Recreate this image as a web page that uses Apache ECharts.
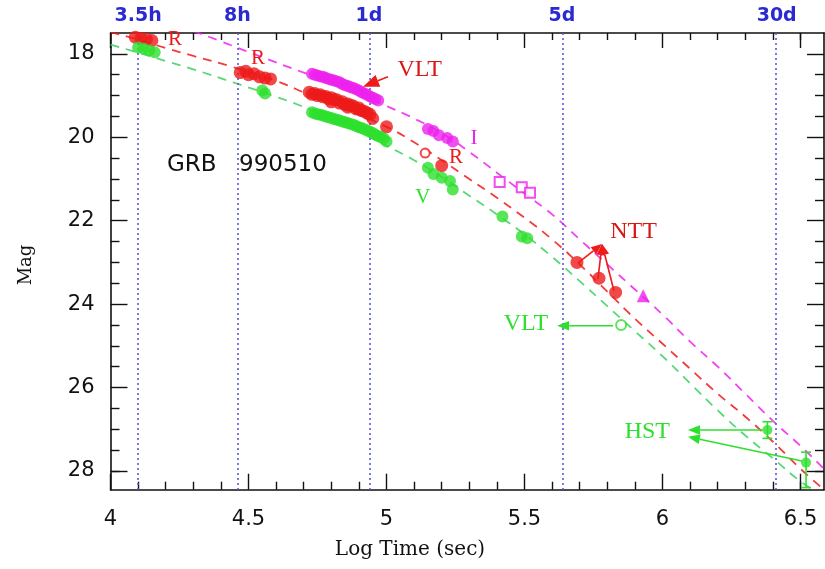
<!DOCTYPE html>
<html>
<head>
<meta charset="utf-8">
<script src="https://cdn.jsdelivr.net/npm/echarts@6/dist/echarts.min.js"></script>
<style>
  html, body { margin: 0; padding: 0; background: #fff; }
  #chart { width: 825px; height: 569px; }
</style>
</head>
<body>
<div id="chart"></div>
<script>
// tick labels
const magMajor = [18, 20, 22, 24, 26, 28]
const magMinor = [18.5, 19, 19.5, 20.5, 21, 21.5, 22.5, 23, 23.5, 24.5, 25, 25.5, 26.5, 27, 27.5, 28]
const logMajor = [4, 4.5, 5, 5.5, 6, 6.5]
const logMinor = [4.1, 4.2, 4.3, 4.4, 4.6, 4.7, 4.8, 4.9, 5.1, 5.2, 5.3, 5.4, 5.6, 5.7, 5.8, 5.9, 6.1, 6.2, 6.3, 6.4, 6.5]
const timeNames = ['3.5h', '8h', '1d', '5d', '30d']
const timeSeconds = [12600, 28800, 86400, 432000, 2592000]

// model curves (log t, mag)
const iModel = [[4.3,17.45],[4.4,17.7],[4.55,18.08],[4.7,18.45],[4.85,18.8],[5.0,19.25],[5.1,19.55],[5.2,19.9],[5.3,20.35],[5.4,20.85],[5.5,21.35],[5.6,21.85],[5.7,22.45],[5.8,23.05],[5.9,23.65],[6.0,24.25],[6.1,24.9],[6.2,25.5],[6.3,26.15],[6.4,26.8],[6.5,27.4],[6.585,27.95]]
const rModel = [[4.0,17.48],[4.1,17.66],[4.2,17.86],[4.3,18.05],[4.44,18.31],[4.6,18.65],[4.72,18.98],[4.85,19.33],[5.0,19.75],[5.1,20.12],[5.2,20.55],[5.3,21.0],[5.4,21.45],[5.5,21.93],[5.6,22.45],[5.7,23.05],[5.8,23.7],[5.9,24.35],[6.0,24.95],[6.1,25.55],[6.2,26.15],[6.3,26.7],[6.4,27.3],[6.5,27.95],[6.585,28.45]]
const vModel = [[4.0,17.78],[4.1,17.97],[4.2,18.17],[4.3,18.37],[4.47,18.74],[4.6,19.03],[4.68,19.22],[4.8,19.55],[4.9,19.85],[5.0,20.2],[5.1,20.55],[5.2,20.95],[5.3,21.4],[5.4,21.85],[5.5,22.33],[5.6,22.87],[5.7,23.45],[5.8,24.05],[5.9,24.65],[6.0,25.25],[6.1,25.9],[6.2,26.55],[6.3,27.15],[6.4,27.7],[6.5,28.25],[6.56,28.5]]

// observations
const iPoints = [[4.73,18.48],[4.74,18.5],[4.75,18.52],[4.76,18.54],[4.77,18.55],[4.78,18.58],[4.79,18.6],[4.8,18.62],[4.81,18.64],[4.82,18.66],[4.83,18.68],[4.84,18.72],[4.85,18.75],[4.86,18.77],[4.87,18.8],[4.88,18.82],[4.89,18.85],[4.9,18.88],[4.91,18.92],[4.92,18.95],[4.93,18.98],[4.94,19.02],[4.95,19.05],[4.96,19.08],[4.97,19.12],[5.15,19.8],[5.17,19.85],[5.19,19.95],[5.22,20.02],[5.24,20.1]]
const iOpen = [[5.41,21.07],[5.49,21.2],[5.52,21.33]]
const iLimit = [[5.93,23.8]]
const rPoints = [[4.09,17.6],[4.11,17.63],[4.13,17.65],[4.15,17.68],[4.47,18.45],[4.49,18.42],[4.5,18.5],[4.52,18.48],[4.54,18.55],[4.56,18.58],[4.58,18.6],[4.72,18.92],[4.73,18.97],[4.74,18.95],[4.75,19.0],[4.76,18.98],[4.77,19.03],[4.78,19.02],[4.79,19.08],[4.8,19.05],[4.8,19.15],[4.81,19.1],[4.82,19.1],[4.83,19.18],[4.84,19.15],[4.85,19.22],[4.86,19.2],[4.86,19.28],[4.87,19.24],[4.88,19.25],[4.89,19.32],[4.9,19.3],[4.91,19.36],[4.92,19.38],[4.93,19.42],[4.94,19.45],[4.95,19.55],[5.0,19.75],[5.2,20.68],[5.69,23.0],[5.77,23.38],[5.83,23.72]]
const rOpen = [[5.14,20.38]]
const vPoints = [[4.1,17.85],[4.12,17.88],[4.14,17.92],[4.16,17.96],[4.55,18.88],[4.56,18.95],[4.73,19.4],[4.74,19.43],[4.75,19.45],[4.76,19.46],[4.77,19.48],[4.78,19.5],[4.79,19.52],[4.8,19.54],[4.81,19.56],[4.82,19.58],[4.83,19.6],[4.84,19.62],[4.85,19.64],[4.86,19.66],[4.87,19.68],[4.88,19.7],[4.89,19.73],[4.9,19.76],[4.91,19.78],[4.92,19.81],[4.93,19.84],[4.94,19.87],[4.95,19.9],[4.96,19.94],[4.97,19.97],[4.98,20.0],[4.99,20.03],[5.0,20.1],[5.15,20.73],[5.17,20.88],[5.2,20.97],[5.23,21.05],[5.24,21.25],[5.42,21.9],[5.49,22.38],[5.51,22.42]]
const vOpen = [[5.85,24.5]]
const hstTime = [6.38, 6.52]
const hstMag = [27.02, 27.8]
const hstLow = [26.82, 27.55]
const hstHigh = [27.22, 28.4]

const RED = '#ee1a1a', GREEN = '#2ee02e', MAG = '#ee22ee'
const XMIN = 4, XMAX = 6.585, YMIN = 17.5, YMAX = 28.45

const timeLog = timeSeconds.map(s => Math.log10(s))

function xAx(pos, ticks, len, labels) {
  return {
    type: 'value', position: pos, min: XMIN, max: XMAX,
    axisLine: { show: !!labels, lineStyle: { color: '#111', width: 1.6 } },
    axisTick: { show: true, inside: true, length: len, customValues: ticks, lineStyle: { color: '#111', width: 1.4 } },
    axisLabel: labels || { show: false },
    splitLine: { show: false }
  }
}
function yAx(pos, ticks, len, labels) {
  return {
    type: 'value', position: pos, inverse: true, min: YMIN, max: YMAX,
    axisLine: { show: !!labels, lineStyle: { color: '#111', width: 1.6 } },
    axisTick: { show: true, inside: true, length: len, customValues: ticks, lineStyle: { color: '#111', width: 1.4 } },
    axisLabel: labels || { show: false },
    splitLine: { show: false }
  }
}

const chart = echarts.init(document.getElementById('chart'))

function scatter(data, color, size, symbol) {
  return {
    type: 'scatter', data: data, symbol: symbol || 'circle', symbolSize: size,
    itemStyle: symbol && symbol.indexOf('empty') === 0 ? { color: color, borderColor: color, borderWidth: 2 } : { color: color },
    z: 5
  }
}
function curve(data, color) {
  return {
    type: 'line', data: data, smooth: true, showSymbol: false, symbol: 'none',
    lineStyle: { color: color, width: 1.8, type: [9, 7], opacity: 0.85 }, z: 3
  }
}

chart.setOption({
  animation: false,
  grid: { left: 110.5, right: 1, top: 33, height: 456.7 },
  xAxis: [
    xAx('bottom', logMajor, 16, { show: true, customValues: logMajor, margin: 19, fontSize: 21, color: '#111', fontFamily: 'DejaVu Sans' }),
    xAx('bottom', logMinor, 8),
    xAx('top', logMajor, 15, { show: true, customValues: timeLog, margin: 7, fontSize: 19, fontWeight: 'bold', color: '#2a2ad0', fontFamily: 'DejaVu Sans',
      formatter: v => { const i = timeLog.findIndex(t => Math.abs(t - v) < 1e-6); return i >= 0 ? timeNames[i] : '' } }),
    xAx('top', logMinor, 7)
  ],
  yAxis: [
    yAx('left', magMajor, 17, { show: true, customValues: magMajor, margin: 16, fontSize: 21, color: '#111', fontFamily: 'DejaVu Sans' }),
    yAx('left', magMinor, 9),
    yAx('right', magMajor, 17, { show: false }),
    yAx('right', magMinor, 9)
  ],
  series: [
    curve(iModel, MAG), curve(rModel, RED), curve(vModel, '#3cd060'),
    {
      type: 'line', data: [], markLine: {
        silent: true, symbol: ['none', 'none'], label: { show: false },
        lineStyle: { type: [2, 3], color: '#5a5ad8', width: 1.6 },
        data: timeLog.map(v => ({ xAxis: v }))
      }
    },
    scatter(iPoints, MAG, 12), scatter(iOpen, MAG, 10, 'emptyRect'), scatter(iLimit, MAG, 13, 'triangle'),
    scatter(rPoints, RED, 13), scatter(rOpen, RED, 9, 'emptyCircle'),
    scatter(vPoints, GREEN, 12), scatter(vOpen, GREEN, 10, 'emptyCircle'),
    scatter(hstTime.map((t, i) => [t, hstMag[i]]), GREEN, 10),
    {
      type: 'custom', z: 4,
      data: hstTime.map((t, i) => [t, hstMag[i], hstLow[i], hstHigh[i]]),
      renderItem: (params, api) => {
        const a = api.coord([api.value(0), api.value(2)])
        const b = api.coord([api.value(0), api.value(3)])
        const st = { stroke: GREEN, lineWidth: 1.6 }
        return { type: 'group', children: [
          { type: 'line', shape: { x1: a[0], y1: a[1], x2: b[0], y2: b[1] }, style: st },
          { type: 'line', shape: { x1: a[0] - 5, y1: a[1], x2: a[0] + 5, y2: a[1] }, style: st },
          { type: 'line', shape: { x1: b[0] - 5, y1: b[1], x2: b[0] + 5, y2: b[1] }, style: st }
        ] }
      }
    }
  ]
})

// annotations in data coordinates
const labels = [
  { t: 'R', at: [4.234, 17.66], c: RED, s: 21 },
  { t: 'R', at: [4.534, 18.1], c: RED, s: 21 },
  { t: 'VLT', at: [5.12, 18.38], c: '#d81818', s: 24 },
  { t: 'I', at: [5.317, 20.04], c: MAG, s: 21 },
  { t: 'R', at: [5.252, 20.49], c: RED, s: 21 },
  { t: 'V', at: [5.132, 21.45], c: GREEN, s: 21 },
  { t: 'NTT', at: [5.895, 22.27], c: '#d81818', s: 24 },
  { t: 'VLT', at: [5.505, 24.47], c: GREEN, s: 24 },
  { t: 'HST', at: [5.945, 27.06], c: GREEN, s: 24 }
]
const arrows = [
  { from: [5.005, 18.55], to: [4.915, 18.79], c: RED, head: 16 },
  { from: [5.694, 23.01], to: [5.781, 22.56], c: RED, head: 11 },
  { from: [5.766, 23.4], to: [5.781, 22.56], c: RED, head: 11 },
  { from: [5.824, 23.68], to: [5.781, 22.56], c: RED, head: 11 },
  { from: [5.821, 24.52], to: [5.618, 24.52], c: GREEN, head: 12 },
  { from: [6.364, 27.02], to: [6.092, 27.02], c: GREEN, head: 12 },
  { from: [6.505, 27.76], to: [6.092, 27.18], c: GREEN, head: 12 }
]

const px = p => chart.convertToPixel({ seriesIndex: 0 }, p)
const graphic = []
labels.forEach(l => {
  const p = px(l.at)
  graphic.push({ type: 'text', x: p[0], y: p[1], z: 10,
    style: { text: l.t, fill: l.c, font: l.s + 'px "Liberation Serif"', textAlign: 'center', textVerticalAlign: 'middle' } })
})
arrows.forEach(a => {
  const p0 = px(a.from), p1 = px(a.to)
  const dx = p1[0] - p0[0], dy = p1[1] - p0[1], d = Math.hypot(dx, dy)
  const ux = dx / d, uy = dy / d, h = a.head, w = h * 0.4
  const bx = p1[0] - ux * h, by = p1[1] - uy * h
  graphic.push({ type: 'line', z: 10, shape: { x1: p0[0], y1: p0[1], x2: bx, y2: by }, style: { stroke: a.c, lineWidth: 1.6 } })
  graphic.push({ type: 'polygon', z: 10, shape: { points: [[p1[0], p1[1]], [bx - uy * w, by + ux * w], [bx + uy * w, by - ux * w]] }, style: { fill: a.c } })
})
graphic.push({ type: 'text', x: 167, y: 165, style: { text: 'GRB', fill: '#111', font: '23px "DejaVu Sans"', textVerticalAlign: 'middle' } })
graphic.push({ type: 'text', x: 239, y: 165, style: { text: '990510', fill: '#111', font: '23px "DejaVu Sans"', textVerticalAlign: 'middle' } })
graphic.push({ type: 'text', x: 410, y: 550, style: { text: 'Log Time (sec)', fill: '#111', font: '20px "DejaVu Serif"', textAlign: 'center', textVerticalAlign: 'middle' } })
graphic.push({ type: 'text', x: 26, y: 265, rotation: Math.PI / 2, style: { text: 'Mag', fill: '#111', font: '18px "DejaVu Serif"', textAlign: 'center', textVerticalAlign: 'middle' } })
chart.setOption({ graphic: graphic })
</script>
</body>
</html>
